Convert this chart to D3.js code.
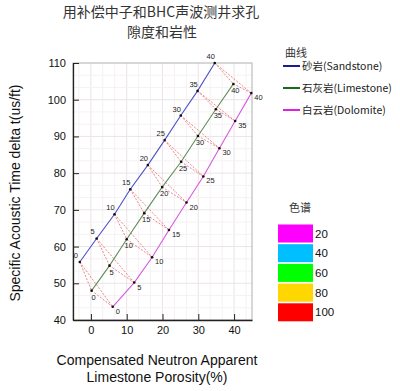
<!DOCTYPE html>
<html>
<head>
<meta charset="utf-8">
<script src="https://cdn.jsdelivr.net/npm/d3@7"></script>
<style>
body{margin:0;background:#fff;}
text{font-family:"Liberation Sans",Arial,sans-serif;}
.cjk{font-family:"Noto Sans CJK SC","Liberation Sans",sans-serif;}
</style>
</head>
<body>
<svg id="chart" width="400" height="391"></svg>
<script>
// porosity labels along each lithology curve
var porosity=[0,5,10,15,20,25,30,35,40];
// neutron apparent limestone porosity (x) and delta t (y)
var sandstoneX=[-3.1,1.6,6.6,11.0,15.9,20.6,25.1,29.8,34.6];
var sandstoneY=[55.8,62.2,68.8,75.6,82.2,89.0,95.7,102.4,110.0];
var limestoneX=[0.2,5.2,10.0,14.9,19.9,25.2,29.9,34.9,39.8];
var limestoneY=[48.0,54.8,62.0,69.1,76.2,83.1,90.1,97.4,104.3];
var dolomiteX=[6.1,12.1,17.1,21.8,26.7,31.4,35.9,40.3,44.8];
var dolomiteY=[43.6,50.2,57.1,64.5,72.0,79.1,86.8,94.2,101.8];

var xTicks=[0,10,20,30,40];
var yTicks=[40,50,60,70,80,90,100,110];

var titleLines=["用补偿中子和BHC声波测井求孔","隙度和岩性"];
var curveNames=["砂岩(Sandstone)","石灰岩(Limestone)","白云岩(Dolomite)"];
var curveColors=["#1c1c8c","#1b6b1b","#e020e0"];
var plotColors=["#5050c8","#5f8f5f","#d65ae0"];

var specLabels=["20","40","60","80","100"];
var specColors=["#ff00ff","#00bfff","#00ff00","#ffd700","#ff0000"];

var svg=d3.select("#chart");
svg.append("rect").attr("width",400).attr("height",391).attr("fill","#fff");

var x=d3.scaleLinear().domain([-5,45]).range([73,252]);
var y=d3.scaleLinear().domain([40,110]).range([320,63]);

// light grid
var gx=d3.range(-1,14).map(function(i){return i*10/3;}).filter(function(v){return v>-5&&v<45;});
var gy=d3.range(12,34).map(function(i){return i*10/3;}).filter(function(v){return v>40&&v<110;});
svg.append("g").selectAll("line").data(gx).enter().append("line")
  .attr("x1",d=>x(d)).attr("x2",d=>x(d)).attr("y1",y(40)).attr("y2",y(110))
  .attr("stroke",d=>Math.abs(d%10)<0.01?"#ebe4e8":"#f6f1f4").attr("stroke-width",1);
svg.append("g").selectAll("line").data(gy).enter().append("line")
  .attr("y1",d=>y(d)).attr("y2",d=>y(d)).attr("x1",x(-5)).attr("x2",x(45))
  .attr("stroke",d=>Math.abs(d%10)<0.01?"#ebe4e8":"#f6f1f4").attr("stroke-width",1);

// frame
svg.append("rect").attr("x",73).attr("y",63).attr("width",179).attr("height",257)
  .attr("fill","none").attr("stroke","#b0b0b0");

// axes with inward ticks
var yAxis=svg.append("g").attr("transform","translate(73,0)")
  .call(d3.axisLeft(y).tickValues(yTicks).tickSizeInner(-6).tickSizeOuter(0).tickPadding(7));
var xAxis=svg.append("g").attr("transform","translate(0,320)")
  .call(d3.axisBottom(x).tickValues(xTicks).tickSizeInner(-6).tickSizeOuter(0).tickPadding(6));
[xAxis,yAxis].forEach(function(a){
  a.select(".domain").attr("stroke","#222").attr("stroke-width",1.3);
  a.selectAll(".tick line").attr("stroke","#222");
  a.selectAll("text").attr("font-size",11).attr("fill","#111").attr("font-family","Liberation Sans, Arial");
});

var series=[
  {xs:sandstoneX,ys:sandstoneY},
  {xs:limestoneX,ys:limestoneY},
  {xs:dolomiteX,ys:dolomiteY}
];

// red dashed connectors between equal porosity points
var links=[];
porosity.forEach(function(p,i){
  links.push([series[0],series[1],i]);
  links.push([series[0],series[2],i]);
  links.push([series[1],series[2],i]);
});
svg.append("g").selectAll("line").data(links).enter().append("line")
  .attr("x1",d=>x(d[0].xs[d[2]])).attr("y1",d=>y(d[0].ys[d[2]]))
  .attr("x2",d=>x(d[1].xs[d[2]])).attr("y2",d=>y(d[1].ys[d[2]]))
  .attr("stroke","#e05050").attr("stroke-width",0.8).attr("stroke-dasharray","2,1.5").attr("opacity",0.85);

// curves
var line=d3.line().x(d=>x(d[0])).y(d=>y(d[1]));
series.forEach(function(s,k){
  var pts=s.xs.map(function(v,i){return [v,s.ys[i]];});
  svg.append("path").datum(pts).attr("d",line).attr("fill","none")
    .attr("stroke",plotColors[k]).attr("stroke-width",1.1);
});

// point markers and porosity labels
var labelOff=[[-4,-4,"middle"],[2,9,"middle"],[3,7,"start"]];
series.forEach(function(s,k){
  var g=svg.append("g");
  g.selectAll("circle").data(porosity).enter().append("circle")
    .attr("cx",(d,i)=>x(s.xs[i])).attr("cy",(d,i)=>y(s.ys[i])).attr("r",1.3).attr("fill","#111");
  g.selectAll("text").data(porosity).enter().append("text")
    .attr("x",(d,i)=>x(s.xs[i])+labelOff[k][0]).attr("y",(d,i)=>y(s.ys[i])+labelOff[k][1])
    .attr("text-anchor",labelOff[k][2]).attr("font-size",7.5).attr("fill","#222")
    .text(d=>d);
});

// title
svg.append("text").attr("class","cjk").attr("text-anchor","middle")
  .attr("font-size",14).attr("fill","#333")
  .selectAll("tspan").data(titleLines).enter().append("tspan")
  .attr("x",(d,i)=>161+i).attr("y",(d,i)=>17+i*20).text(d=>d);

// axis titles
svg.append("text").attr("transform","translate(20,193) rotate(-90)").attr("text-anchor","middle")
  .attr("font-size",14).attr("fill","#111").text("Specific Acoustic Time delta t(us/ft)");
svg.append("text").attr("x",157).attr("y",365).attr("text-anchor","middle")
  .attr("font-size",14).attr("fill","#111").text("Compensated Neutron Apparent");
svg.append("text").attr("x",157).attr("y",382).attr("text-anchor","middle")
  .attr("font-size",14).attr("fill","#111").text("Limestone Porosity(%)");

// curve legend
svg.append("text").attr("class","cjk").attr("x",296).attr("y",57).attr("text-anchor","middle")
  .attr("font-size",11).attr("fill","#333").text("曲线");
var lg=svg.append("g").selectAll("g").data(curveNames).enter().append("g")
  .attr("transform",(d,i)=>"translate(283,"+(66+i*22)+")");
lg.append("line").attr("x1",0).attr("x2",17).attr("stroke",(d,i)=>curveColors[i]).attr("stroke-width",2);
lg.append("text").attr("class","cjk").attr("x",19).attr("y",4).attr("font-size",10.5).attr("fill","#222").text(d=>d);

// colour spectrum legend
svg.append("text").attr("class","cjk").attr("x",300).attr("y",212).attr("text-anchor","middle")
  .attr("font-size",11).attr("fill","#333").text("色谱");
var sg=svg.append("g").selectAll("g").data(specLabels).enter().append("g")
  .attr("transform",(d,i)=>"translate(278,"+(224.5+i*19.7)+")");
sg.append("rect").attr("width",35).attr("height",18).attr("fill",(d,i)=>specColors[i]);
sg.append("text").attr("x",37).attr("y",13).attr("font-size",11.5).attr("fill","#111").text(d=>d);
</script>
</body>
</html>
